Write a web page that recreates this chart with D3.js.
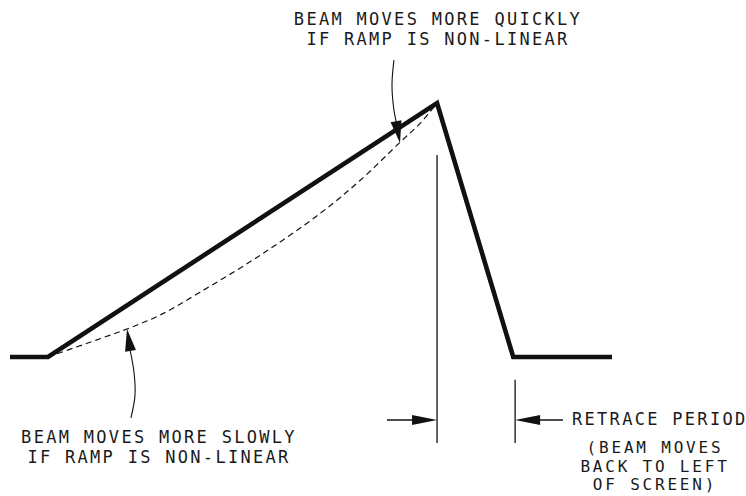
<!DOCTYPE html>
<html>
<head>
<meta charset="utf-8">
<style>
    body { margin: 0; background: #fff; }
    svg { display: block; }
    .lbl {
        font-family: "DejaVu Sans Mono", monospace;
        font-size: 17px;
        letter-spacing: 2.3px;
        fill: #1a1a1a;
    }
    .lbl.small {
        font-size: 16px;
        letter-spacing: 2.8px;
    }
</style>
</head>
<body>
<svg width="746" height="496"></svg>
<script src="https://d3js.org/d3.v7.min.js"></script>
<script>
    // time in microseconds (one 64us line), voltage normalised 0..1
    let traceT = [0, 4.04, 45.4, 53.5, 64];
    let traceV = [0, 0, 1, 0, 0];

    // non-linear ramp (dashed)
    let curveT = [4.04, 9.57, 12.76, 15.95, 20.2, 26.58, 32.96, 37.21, 41.46, 43.6, 45.4];
    let curveV = [0, 0.072, 0.115, 0.165, 0.255, 0.4, 0.565, 0.695, 0.845, 0.92, 1];

    // retrace markers
    let retraceT = [45.4, 53.7];

    // leader lines for notes
    let upperLeaderT = [40.82, 40.61, 40.82, 41.14, 41.46];
    let upperLeaderV = [1.169, 1.071, 0.972, 0.913, 0.843];
    let lowerLeaderT = [12.86, 13.29, 13.18, 12.76, 12.44];
    let lowerLeaderV = [-0.24, -0.15, -0.059, 0.028, 0.11];

    let notes = [
        ["BEAM MOVES MORE QUICKLY", "IF RAMP IS NON-LINEAR"],
        ["BEAM MOVES MORE SLOWLY", "IF RAMP IS NON-LINEAR"],
        ["RETRACE PERIOD"],
        ["(BEAM MOVES", "BACK TO LEFT", "OF SCREEN)"]
    ];

    let svg = d3.select("svg");
    let x = d3.scaleLinear().domain([0, 64]).range([10, 612]);
    let y = d3.scaleLinear().domain([0, 1]).range([357, 103]);
    let ink = "#111";

    // dashed non-linear ramp
    svg.append("path")
        .attr("d", d3.line().x(d => x(d[0])).y(d => y(d[1])).curve(d3.curveCatmullRom)(d3.zip(curveT, curveV)))
        .attr("fill", "none")
        .attr("stroke", ink)
        .attr("stroke-width", 1.2)
        .attr("stroke-dasharray", "6,4");

    // main sawtooth
    svg.append("path")
        .attr("d", d3.line().x(d => x(d[0])).y(d => y(d[1]))(d3.zip(traceT, traceV)))
        .attr("fill", "none")
        .attr("stroke", ink)
        .attr("stroke-width", 4.6)
        .attr("stroke-linejoin", "miter");

    // vertical markers
    let vTop = [0.795, -0.09];
    svg.selectAll(".vmark")
        .data(retraceT)
        .join("line")
        .attr("class", "vmark")
        .attr("x1", d => x(d)).attr("x2", d => x(d))
        .attr("y1", (d, i) => y(vTop[i]))
        .attr("y2", y(-0.339))
        .attr("stroke", ink)
        .attr("stroke-width", 1.3);

    function arrowHead(tx, ty, fx, fy, len, half) {
        let a = Math.atan2(ty - fy, tx - fx);
        let bx = tx - len * Math.cos(a), by = ty - len * Math.sin(a);
        let px = -Math.sin(a) * half, py = Math.cos(a) * half;
        svg.append("path")
            .attr("d", `M${tx},${ty}L${bx + px},${by + py}L${bx - px},${by - py}Z`)
            .attr("fill", ink);
    }

    // retrace period arrows
    let ay = y(-0.248);
    svg.append("line")
        .attr("x1", x(40.08)).attr("x2", x(retraceT[0]) - 10)
        .attr("y1", ay).attr("y2", ay)
        .attr("stroke", ink).attr("stroke-width", 1.5);
    arrowHead(x(retraceT[0]), ay, x(40.08), ay, 25, 5);
    svg.append("line")
        .attr("x1", x(58.79)).attr("x2", x(retraceT[1]) + 10)
        .attr("y1", ay).attr("y2", ay)
        .attr("stroke", ink).attr("stroke-width", 1.5);
    arrowHead(x(retraceT[1]), ay, x(58.79), ay, 25, 5);

    // leaders
    let leader = d3.line().x(d => x(d[0])).y(d => y(d[1])).curve(d3.curveCatmullRom);
    [[upperLeaderT, upperLeaderV], [lowerLeaderT, lowerLeaderV]].forEach(([ts, vs]) => {
        let pts = d3.zip(ts, vs);
        svg.append("path")
            .attr("d", leader(pts.slice(0, -1)))
            .attr("fill", "none")
            .attr("stroke", ink)
            .attr("stroke-width", 1.1);
        let tip = pts[pts.length - 1], prev = pts[pts.length - 3];
        arrowHead(x(tip[0]), y(tip[1]), x(prev[0]), y(prev[1]), 22, 5.5);
    });

    // labels
    function note(lines, cx, y0, dy, anchor, cls) {
        lines.forEach((s, i) => {
            svg.append("text")
                .attr("class", cls || "lbl")
                .attr("text-anchor", anchor)
                .attr("x", cx)
                .attr("y", y0 + i * dy)
                .text(s);
        });
    }
    note(notes[0], 438, 25, 19.5, "middle");
    note(notes[1], 159, 443, 19.5, "middle");
    note(notes[2], 572, 425, 19, "start");
    note(notes[3], 655, 453, 18.7, "middle", "lbl small");
</script>
</body>
</html>
